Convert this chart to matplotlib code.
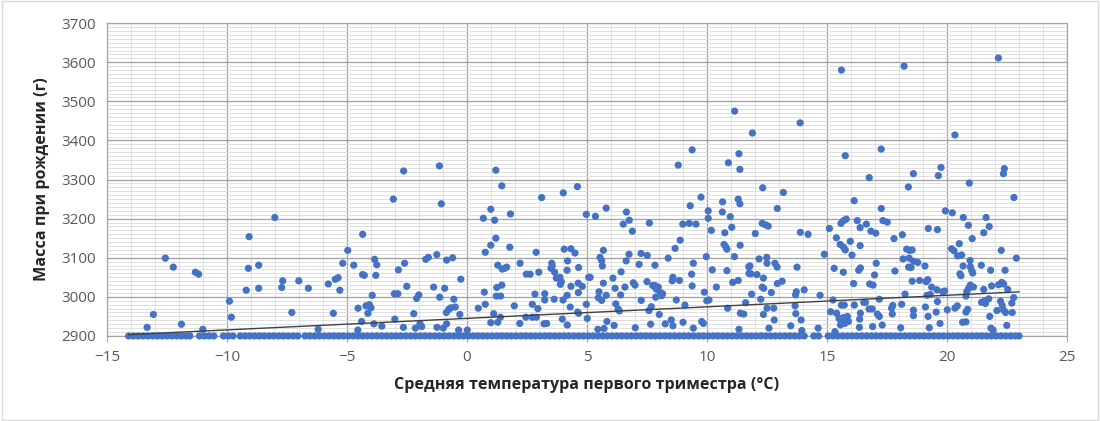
import numpy as np
import matplotlib
matplotlib.use("Agg")
import matplotlib.pyplot as plt
from matplotlib.patches import Rectangle

plt.rcParams['font.family'] = ['Open Sans', 'DejaVu Sans']

# points above the bottom of the axis (temperature, weight)
temp_hi = [
    -13.33, -13.07, -12.57, -12.24, -11.9, -11.32, -11.18, -11.01, -9.9, -9.82, -9.2, -9.11, -9.08, -8.68, -8.68,
    -8.01, -7.72, -7.68, -7.3, -7.01, -6.61, -6.2, -5.78, -5.57, -5.49, -5.37, -5.3, -5.18, -4.97, -4.72,
    -4.55, -4.54, -4.39, -4.35, -4.35, -4.28, -4.21, -4.13, -4.07, -4.0,
    -3.85, -3.76, -3.8, -3.95, -3.88, -3.55, -3.07, -2.64, -2.86, -2.6, -2.51, -3.03, -2.88, -2.22, -2.1,
    -2.01, -3.01, -2.65, -2.15, -1.96, -1.89, -1.72, -1.61,
    -1.15, -1.07, -1.26, -0.85, -0.6, -1.39, -0.93, -1.14, -0.55, -0.26, -0.86, -0.76, -0.67, -0.49, -0.3,
    -1.25, -0.99, -0.85, -0.35, 0.01, 0.68, 0.76, 0.72, 0.76, 0.47, 1.22, 1.4, 0.99, 1.2, 1.15, 1.45, 1.2,
    0.99, 1.28, 1.47, 1.57, 1.65, 1.81, 1.78, 1.24, 1.45, 1.11, 0.99, 1.28, 1.39, 1.97, 2.21, 2.47, 2.63,
    2.2, 2.45, 2.72, 2.89, 2.72, 2.83, 2.95, 2.88, 2.99, 3.11, 3.21, 3.32, 3.24, 3.24, 3.53, 3.55, 3.5,
    3.65, 3.72, 3.87, 3.93, 3.89, 3.63, 4.0, 4.01, 4.6, 4.05, 4.33, 4.5, 4.19, 4.17, 4.65, 4.33, 4.63,
    4.8, 4.17, 4.64, 4.3, 4.61, 4.65, 3.97, 4.18, 4.97, 5.07, 4.97, 5.01,
    5.35, 5.8, 6.64, 6.76, 6.51, 6.89, 7.6, 5.13, 5.68, 5.54, 5.61, 5.64, 5.68, 5.5, 5.47, 5.61, 5.8,
    5.83, 5.45, 5.71, 6.08, 6.17, 6.2, 6.3, 6.35, 6.42, 6.4, 6.13, 6.63, 6.75, 6.58, 6.93, 7.0, 7.01,
    7.17, 7.25, 7.51, 7.26, 7.5, 7.68, 7.58, 7.65, 7.83, 7.74, 7.83, 7.88, 7.97, 7.86, 8.05, 8.11, 8.15,
    8.01, 8.26, 8.38, 8.8, 9.38, 8.88, 8.67, 8.99, 9.26, 9.54, 9.3, 9.75, 8.58, 8.55, 8.85, 8.72, 9.08,
    8.51, 8.58, 9.0, 9.43, 9.36, 9.38, 9.43, 9.89, 9.78, 9.85, 9.97, 10.05, 10.05, 10.18, 10.22, 10.08,
    9.99, 10.39, 10.65, 10.64, 10.89, 11.33, 11.37, 11.3, 11.37, 10.97, 11.03, 10.74, 10.71, 10.78,
    10.83, 11.14, 11.38, 10.83, 11.07, 11.3, 10.86, 11.39, 11.53, 11.61, 11.74, 11.75, 11.33,
    11.15, 11.89, 13.88, 15.6, 18.21, 22.14, 20.33, 17.26, 15.76, 12.32, 13.18, 16.76, 18.6, 18.39,
    19.64, 19.75, 20.93, 22.35, 22.39, 22.79, 16.13, 12.93, 17.26,
    12.3, 12.44, 12.55, 12.01, 13.89, 14.21, 15.1, 15.39, 15.58, 15.69, 15.8, 16.26, 16.38, 16.64,
    16.83, 17.03, 17.33, 17.51, 17.79, 18.14, 15.55, 15.69, 15.76, 15.97, 16.38, 16.04, 14.89, 11.79,
    12.17, 12.49, 12.5, 12.83, 12.92, 11.83, 12.08, 12.35, 12.3, 12.36, 12.93, 13.13, 11.86, 12.24,
    12.68, 13.75, 13.72, 13.69, 14.05, 14.71, 15.3, 15.68, 16.11, 16.32, 16.39, 16.78, 16.92, 16.98,
    17.05, 17.83, 18.17, 18.4, 18.32, 12.5, 12.78, 12.35, 12.8, 12.58, 13.49, 13.67, 13.7, 13.92,
    13.95, 14.63, 15.25, 15.15, 15.4, 15.5, 15.6, 15.72, 15.6, 15.56, 15.74, 15.68, 15.33, 15.85,
    15.89, 16.14, 16.53, 16.6, 16.39, 16.36, 16.35, 16.75, 16.88, 17.1, 17.18, 17.18, 16.9, 17.69,
    17.74, 17.72, 18.11, 17.3, 18.07,
    19.93, 20.22, 20.68, 20.89, 21.05, 21.63, 21.76, 21.53, 19.22, 19.6, 22.26, 22.89, 20.19, 20.29,
    20.44, 20.61, 20.51, 18.44, 18.55, 18.42, 18.6, 18.78, 18.5, 19.08, 20.67, 20.96, 20.97, 21.07,
    21.03, 21.43, 20.54, 20.58, 21.82, 22.42, 18.55, 18.86, 19.13, 19.2, 19.36, 19.58, 19.82, 19.9,
    20.82, 20.89, 20.97, 21.1, 21.53, 21.86, 22.15, 22.28, 22.36, 22.53, 18.25, 19.17, 19.3, 20.79,
    21.44, 21.6, 21.74, 21.58, 22.23, 22.3, 22.36, 22.44, 22.72, 22.78, 22.7, 19.1, 19.6, 20.01, 20.33,
    20.43, 20.86, 20.79, 18.6, 18.6, 19.21, 19.55, 20.65, 20.79, 19.71, 19.26, 22.08, 21.78, 22.49,
    21.83, 21.92,
]
weight_hi = [
    2922, 2955, 3099, 3076, 2930, 3063, 3058, 2917, 2989, 2948, 3017, 3073, 3154, 3081, 3022,
    3203, 3024, 3041, 2960, 3041, 3022, 2917, 3033, 2958, 3045, 3049, 3017, 3086, 3119, 3081,
    2915, 2971, 2937, 3160, 3057, 3055, 2977, 2958, 2980, 2972,
    3096, 3082, 3055, 3004, 2931, 2925, 3250, 3322, 3069, 3086, 3027, 3008, 3008, 2957, 2996,
    3005, 2943, 2922, 2920, 2932, 2924, 3096, 3101,
    3335, 3238, 3108, 3094, 3100, 3025, 3022, 2999, 2994, 3045, 2960, 2968, 2972, 2974, 2955,
    2922, 2920, 2931, 2915, 2915, 3201, 3114, 3012, 2981, 2971, 3002, 3002, 3224, 3324, 3196, 3284, 3150,
    3132, 3081, 3071, 3073, 3076, 3212, 3127, 3024, 3030, 2957, 2934, 2935, 2948, 2977, 3086, 3058, 3058,
    2932, 2948, 2948, 2948, 2981, 3007, 2970, 3114, 3063, 3254, 2931, 2932, 3008, 2992, 3086, 3079, 3073,
    3063, 3048, 3050, 3039, 3032, 2994, 2992, 3266, 3282, 3122, 3123, 3112, 3092, 3068, 3075, 3027, 3035,
    3027, 3004, 3011, 2974, 2961, 2958, 2943, 2928, 3211, 3050, 2981, 2945,
    3206, 3227, 3217, 3196, 3186, 3168, 3189, 3050, 3119, 3101, 3093, 3079, 3035, 3013, 2998, 2991, 3004,
    2937, 2917, 2919, 3048, 3022, 2982, 2969, 2964, 3064, 3005, 2927, 3092, 3109, 3025, 3036, 3030, 2921,
    3083, 3111, 3106, 2991, 3039, 2975, 2965, 2930, 3081, 3029, 3029, 3020, 3025, 2999, 3011, 3003, 3008,
    2955, 2931, 3099, 3337, 3376, 3145, 3124, 3186, 3188, 3186, 3233, 3255, 3050, 3041, 3042, 2992, 2979,
    2941, 2926, 2935, 3086, 3058, 3028, 2920, 3012, 2937, 2932, 3103, 3220, 3201, 3170, 3069, 2992,
    2990, 3025, 3243, 3217, 3343, 3366, 3326, 3250, 3238, 3205, 3178, 3164, 3134, 3128,
    3122, 3103, 3132, 3067, 3037, 3042, 2971, 2958, 2956, 2985, 3077, 3060, 2917,
    3475, 3419, 3445, 3580, 3590, 3611, 3414, 3378, 3361, 3279, 3267, 3305, 3315, 3281,
    3310, 3331, 3291, 3315, 3328, 3254, 3246, 3226, 3226,
    3188, 3184, 3181, 3162, 3165, 3160, 3175, 3151, 3188, 3195, 3199, 3195, 3177, 3186,
    3168, 3163, 3195, 3191, 3149, 3159, 3134, 3127, 3120, 3142, 3131, 3107, 3109, 3079,
    3097, 3101, 3086, 3086, 3076, 3059, 3057, 3048, 3025, 3022, 3034, 3040, 3007, 2994,
    3011, 3076, 3013, 3005, 3018, 3004, 3073, 3063, 3034, 3068, 3074, 3033, 3030, 3056,
    3086, 3066, 3097, 3076, 3122, 2971, 2971, 2955, 2941, 2920, 2926, 2977, 2957, 2941,
    2914, 2920, 2992, 2962, 2958, 2945, 2979, 2979, 2937, 2928, 2932, 2947, 2911, 2950,
    2937, 2979, 2986, 2986, 2958, 2943, 2922, 2969, 2969, 2956, 2950, 2994, 2924, 2971,
    2978, 2956, 2981, 2928, 2921,
    3220, 3215, 3203, 3183, 3149, 3203, 3180, 3164, 3175, 3172, 3119, 3099, 3123, 3118,
    3105, 3107, 3136, 3119, 3120, 3099, 3091, 3088, 3075, 3079, 3079, 3093, 3077, 3061,
    3067, 3081, 3059, 3054, 3068, 3068, 3040, 3042, 3039, 3044, 3025, 3018, 3013, 3015,
    3013, 3021, 3030, 3025, 3019, 3028, 3031, 3037, 3033, 3019, 3007, 3004, 3006, 3002,
    2986, 2983, 2995, 2990, 2989, 2978, 2966, 2960, 2960, 2998, 2984, 2974, 2988, 2967, 2971,
    2977, 2968, 2961, 2966, 2952, 2950, 2961, 2935, 2936, 2932, 2921, 2965, 2950, 2927,
    2920, 2915,
]

# points sitting on the 2900 floor
temp_floor = [
    -14.1, -13.9, -13.7, -13.5, -13.3, -13.1, -12.9, -12.7, -12.5, -12.3, -12.1, -11.9, -11.7, -11.55,
    -11.15, -10.95, -10.75, -10.55, -10.15, -9.95, -9.75, -9.45, -9.25, -9.05, -8.85, -8.65, -8.45,
    -8.25, -8.05, -7.85, -7.65, -7.45, -7.25, -7.05, -6.75, -6.55, -6.35, -6.15, -5.95, -5.75, -5.55,
    -5.35, -5.15, -4.95, -4.75, -4.55, -4.35, -4.15, -3.95, -3.75, -3.55, -3.35, -3.15, -2.95, -2.75,
    -2.55, -2.35, -2.15, -1.95, -1.75, -1.55, -1.35, -1.15, -0.95, -0.75, -0.55, -0.35, -0.15, 0.05,
    0.25, 0.45, 0.65, 0.85, 1.05, 1.25, 1.45, 1.65, 1.85, 2.05, 2.25, 2.45, 2.65, 2.85, 3.05, 3.25,
    3.45, 3.65, 3.85, 4.05, 4.25, 4.45, 4.65, 4.85, 5.05, 5.25, 5.45, 5.65, 5.85, 6.05, 6.25, 6.45,
    6.65, 6.85, 7.05, 7.25, 7.45, 7.65, 7.85, 8.05, 8.25, 8.45, 8.65, 8.85, 9.05, 9.25, 9.45, 9.65,
    9.85, 10.05, 10.25, 10.45, 10.65, 10.85, 11.05, 11.25, 11.45, 11.65, 11.85, 12.05, 12.25, 12.45,
    12.65, 12.85, 13.05, 13.25, 13.45, 13.65, 13.85, 14.05, 14.45, 14.65, 15.05, 15.25, 15.45, 15.65,
    15.85, 16.05, 16.25, 16.45, 16.65, 16.85, 17.05, 17.25, 17.45, 17.65, 17.85, 18.05, 18.25, 18.45,
    18.65, 18.85, 19.05, 19.25, 19.45, 19.65, 19.85, 20.05, 20.25, 20.45, 20.65, 20.85, 21.05, 21.25,
    21.45, 21.65, 21.85, 22.05, 22.25, 22.45, 22.65, 22.85, 23.0,
]
weight_floor = [2900] * len(temp_floor)

# linear trend (slope, intercept)
trend_coef = [2.95, 2945]

x = np.array(temp_hi + temp_floor)
y = np.array(weight_hi + weight_floor)

fig = plt.figure(figsize=(11, 4.21), dpi=100)
ax = fig.add_axes([0.0973, 0.202, 0.8727, 0.743])

ax.scatter(x, y, s=27, color='#4472C4', edgecolors='none', zorder=3, clip_on=False)

xt = np.array([x.min(), x.max()])
ax.plot(xt, np.polyval(trend_coef, xt), color='#404040', lw=1.0, zorder=4)

ax.set_xlim(-15, 25)
ax.set_ylim(2900, 3700)
ax.set_xticks(np.arange(-15, 26, 5))
ax.set_xticks(np.arange(-15, 26, 1), minor=True)
ax.set_yticks(np.arange(2900, 3701, 100))
ax.set_yticks(np.arange(2900, 3701, 10), minor=True)

ax.grid(which='minor', color='#e0e0e0', lw=0.7, zorder=0)
ax.grid(which='major', color='#a0a0a0', lw=0.9, zorder=1)
ax.set_axisbelow(True)
for s in ax.spines.values():
    s.set_color('#a6a6a6')
    s.set_linewidth(0.9)

ax.tick_params(axis='x', which='major', length=4, color='#a6a6a6', labelsize=11, labelcolor='#595959', pad=6)
ax.tick_params(axis='y', which='major', length=0, labelsize=11, labelcolor='#595959', pad=8)
ax.tick_params(which='minor', length=0)

ax.set_xlabel('Средняя температура первого триместра (°C)', fontsize=11.6, fontweight='bold',
              color='#262626', labelpad=9)
ax.set_ylabel('Масса при рождении (г)', fontsize=11.6, fontweight='bold', color='#262626', labelpad=8)

fig.patches.append(Rectangle((0.002, 0.003), 0.996, 0.994, transform=fig.transFigure,
                             fill=False, edgecolor='#d9d9d9', lw=1))

fig.savefig('out.png', dpi=100)
